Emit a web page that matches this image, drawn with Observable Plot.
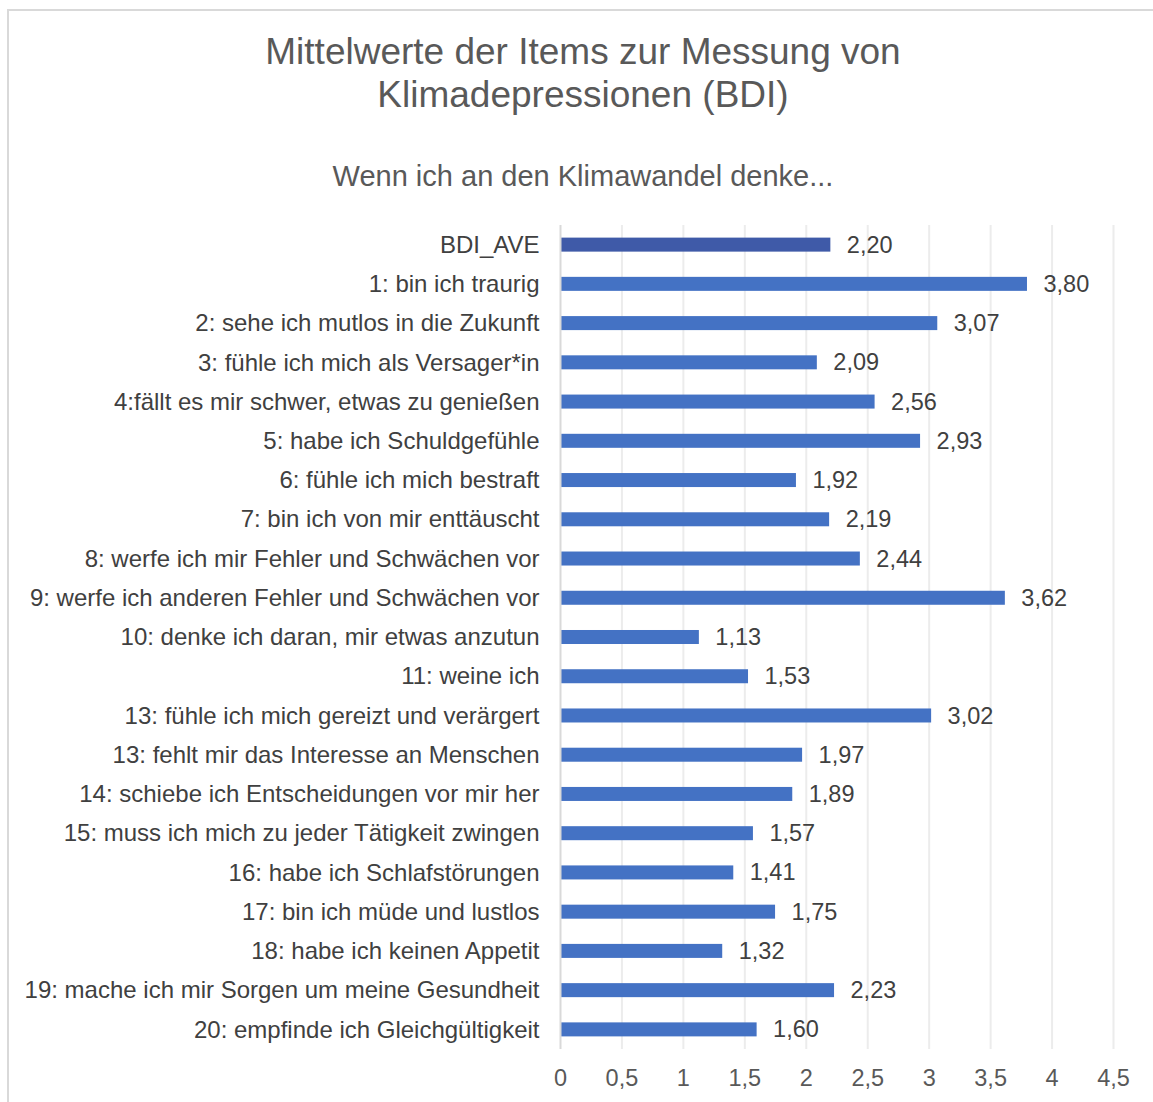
<!DOCTYPE html>
<html>
<head>
<meta charset="utf-8">
<script src="https://cdn.jsdelivr.net/npm/d3@7"></script>
<script src="https://cdn.jsdelivr.net/npm/@observablehq/plot@0.6"></script>
<style>
  html, body { margin: 0; padding: 0; background: #fff; overflow: hidden; }
  body { width: 1153px; height: 1102px; position: relative; font-family: "Liberation Sans", Arial, sans-serif; }
  #frame { position: absolute; left: 7px; top: 9px; width: 1200px; height: 1200px; border: 2px solid #d9d9d9; box-sizing: border-box; }
  .t { position: absolute; left: 0; width: 1166px; text-align: center; color: #595959; }
  #title { top: 30px; font-size: 37px; line-height: 43px; }
  #subtitle { top: 159px; font-size: 29px; line-height: 34px; }
  #chart { position: absolute; left: 0; top: 200px; }
</style>
</head>
<body>
<div id="frame"></div>
<div class="t" id="title">Mittelwerte der Items zur Messung von<br>Klimadepressionen (BDI)</div>
<div class="t" id="subtitle">Wenn ich an den Klimawandel denke...</div>
<div id="chart"></div>
<script>
const categories = [
  "BDI_AVE",
  "1: bin ich traurig",
  "2: sehe ich mutlos in die Zukunft",
  "3: fühle ich mich als Versager*in",
  "4:fällt es mir schwer, etwas zu genießen",
  "5: habe ich Schuldgefühle",
  "6: fühle ich mich bestraft",
  "7: bin ich von mir enttäuscht",
  "8: werfe ich mir Fehler und Schwächen vor",
  "9: werfe ich anderen Fehler und Schwächen vor",
  "10: denke ich daran, mir etwas anzutun",
  "11: weine ich",
  "13: fühle ich mich gereizt und verärgert",
  "13: fehlt mir das Interesse an Menschen",
  "14: schiebe ich Entscheidungen vor mir her",
  "15: muss ich mich zu jeder Tätigkeit zwingen",
  "16: habe ich Schlafstörungen",
  "17: bin ich müde und lustlos",
  "18: habe ich keinen Appetit",
  "19: mache ich mir Sorgen um meine Gesundheit",
  "20: empfinde ich Gleichgültigkeit"
];
const values = [2.20, 3.80, 3.07, 2.09, 2.56, 2.93, 1.92, 2.19, 2.44, 3.62, 1.13, 1.53, 3.02, 1.97, 1.89, 1.57, 1.41, 1.75, 1.32, 2.23, 1.60];
const xTicks = [0, 0.5, 1, 1.5, 2, 2.5, 3, 3.5, 4, 4.5];

const data = categories.map((c, i) => ({cat: c, value: values[i], avg: i === 0}));
const comma = v => String(v).replace(".", ",");

const chart = Plot.plot({
  width: 1153,
  height: 902,
  marginLeft: 560,
  marginRight: 40,
  marginTop: 25,
  marginBottom: 53,
  style: {fontFamily: "Liberation Sans, Arial, sans-serif", fontSize: "24px", color: "#404040", background: "transparent"},
  x: {domain: [0, 4.5], ticks: xTicks, tickFormat: comma, label: null},
  y: {domain: categories, round: false, paddingInner: 0.643, paddingOuter: 0.3215, label: null},
  marks: [
    Plot.gridX(xTicks.filter(t => t > 0), {stroke: "#ececec", strokeOpacity: 1, strokeWidth: 2}),
    Plot.barX(data, {y: "cat", x: "value", fill: d => d.avg ? "#3F5AA8" : "#4472C4"}),
    Plot.ruleX([0], {stroke: "#d9d9d9", strokeWidth: 2}),
    Plot.text(data, {y: "cat", x: "value", text: d => d.value.toFixed(2).replace(".", ","), textAnchor: "start", dx: 16, fill: "#404040", fontSize: 23.5}),
    Plot.axisX({ticks: xTicks, tickFormat: comma, tickSize: 0, tickPadding: 20, fill: "#595959", fontSize: 23.5}),
    Plot.axisY({tickSize: 0, tickPadding: 21, fill: "#404040", fontSize: 24})
  ]
});
document.getElementById("chart").appendChild(chart);
</script>
</body>
</html>
